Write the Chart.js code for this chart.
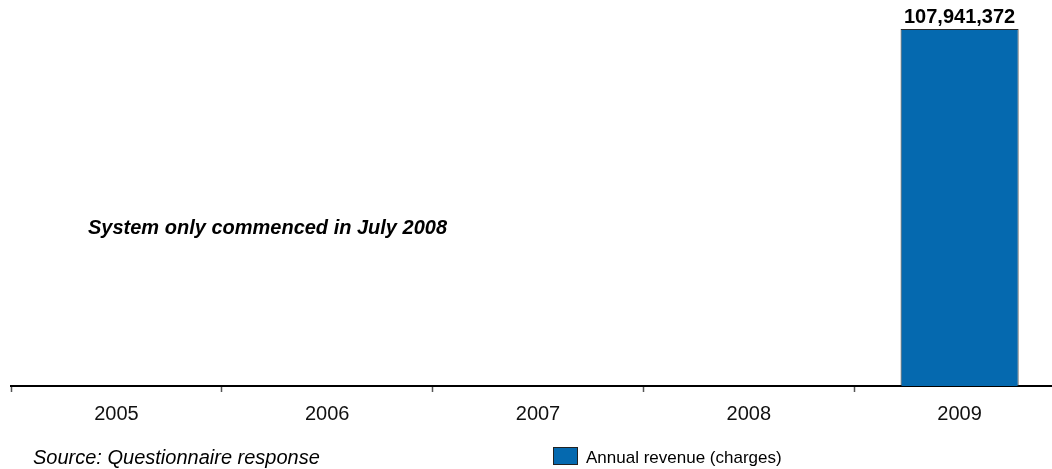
<!DOCTYPE html>
<html>
<head>
<meta charset="utf-8">
<title>Annual revenue (charges)</title>
<script src="https://cdn.jsdelivr.net/npm/chart.js@4/dist/chart.umd.min.js"></script>
<style>
    html, body { margin: 0; padding: 0; background: #fff; overflow: hidden; }
    #wrap { width: 1080px; height: 469px; }
</style>
</head>
<body>
<div id="wrap"><canvas id="revenueChart" width="1080" height="469"></canvas></div>
<script>
const years = ["2005", "2006", "2007", "2008", "2009"];
const revenue = [null, null, null, null, 107941372];
const seriesName = "Annual revenue (charges)";
const noteText = "System only commenced in July 2008";
const sourceText = "Source: Questionnaire response";

const FONT = "'Liberation Sans', Arial, Helvetica, sans-serif";
const BAR_BLUE = "#0569AF";

// value label above each bar
const valueLabels = {
    id: "valueLabels",
    afterDatasetsDraw(chart) {
        const ctx = chart.ctx;
        const meta = chart.getDatasetMeta(0);
        ctx.save();
        ctx.font = "bold 20px " + FONT;
        ctx.fillStyle = "#000";
        ctx.textAlign = "center";
        ctx.textBaseline = "alphabetic";
        meta.data.forEach((bar, i) => {
            const v = chart.data.datasets[0].data[i];
            if (v == null) return;
            ctx.fillText(v.toLocaleString("en-US"), bar.x, bar.y - 6);
        });
        ctx.restore();
    }
};

// note, source line and legend
const extras = {
    id: "extras",
    afterDraw(chart) {
        const ctx = chart.ctx;
        ctx.save();
        ctx.fillStyle = "#000";
        ctx.textAlign = "left";
        ctx.textBaseline = "alphabetic";

        ctx.font = "italic bold 20px " + FONT;
        ctx.fillText(noteText, 88, 234);

        ctx.font = "italic 20px " + FONT;
        ctx.fillText(sourceText, 33, 464);

        const ds = chart.data.datasets[0];
        ctx.fillStyle = ds.backgroundColor;
        ctx.fillRect(553.5, 447.5, 24, 17);
        ctx.strokeStyle = "#222";
        ctx.lineWidth = 1;
        ctx.strokeRect(553.5, 447.5, 24, 17);

        ctx.fillStyle = "#000";
        ctx.font = "17px " + FONT;
        ctx.fillText(ds.label, 586, 463);
        ctx.restore();
    }
};

new Chart(document.getElementById("revenueChart"), {
    type: "bar",
    data: {
        labels: years,
        datasets: [{
            label: seriesName,
            data: revenue,
            backgroundColor: BAR_BLUE,
            borderColor: "#2a2a2a",
            borderWidth: 1,
            borderSkipped: "bottom",
            categoryPercentage: 1,
            barPercentage: 0.56
        }]
    },
    options: {
        responsive: false,
        animation: false,
        layout: { padding: { left: 11, right: 15, top: 29, bottom: 0 } },
        plugins: {
            legend: { display: false },
            tooltip: { enabled: false }
        },
        scales: {
            x: {
                grid: {
                    offset: true,
                    drawOnChartArea: false,
                    drawTicks: true,
                    tickLength: 6,
                    tickWidth: 1.5,
                    tickColor: "#555"
                },
                border: { display: true, color: "#000", width: 2 },
                ticks: {
                    color: "#111",
                    padding: 10,
                    maxRotation: 0,
                    font: { family: FONT, size: 20 }
                },
                afterFit: scale => { scale.height = 83; }
            },
            y: {
                display: false,
                min: 0,
                max: Math.max(...revenue.filter(v => v != null))
            }
        }
    },
    plugins: [valueLabels, extras]
});
</script>
</body>
</html>
